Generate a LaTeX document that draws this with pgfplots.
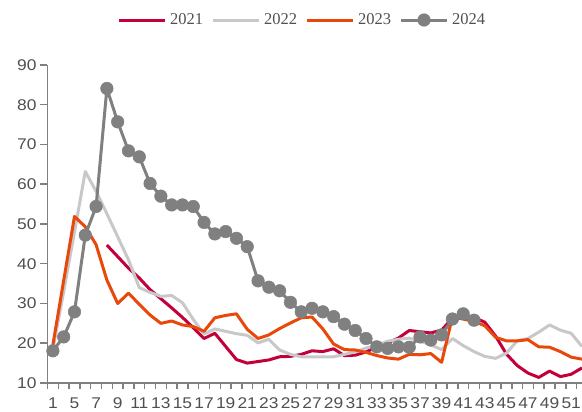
\documentclass[border=0pt]{standalone}
\usepackage{fontspec}
\setmainfont{Liberation Sans}[FakeStretch=1.12]
\newfontfamily\legfont{Liberation Serif}
\usepackage{pgfplots}
\usepackage{pgfplotstable}
\pgfplotsset{compat=1.18}
\definecolor{axgray}{RGB}{128,128,128}
\definecolor{labgray}{RGB}{80,80,80}
\definecolor{c21}{RGB}{196,0,58}
\definecolor{c22}{RGB}{200,200,200}
\definecolor{c23}{RGB}{232,72,10}
\definecolor{c24}{RGB}{128,128,128}

\pgfplotstableread{
x y
6 44.7
7 41.8
8 38.9
9 36.4
10 33.5
11 31.2
12 28.9
13 26.5
14 23.9
15 21.2
16 22.5
17 19.2
18 15.9
19 15.0
20 15.4
21 15.8
22 16.6
23 16.7
24 17.2
25 18.1
26 17.9
27 18.6
28 16.9
29 17.0
30 17.8
31 19.1
32 20.1
33 21.3
34 23.2
35 22.9
36 22.6
37 23.3
38 26.3
39 26.8
40 26.5
41 25.3
42 21.8
43 17.3
44 14.4
45 12.5
46 11.4
47 13.0
48 11.6
49 12.2
50 13.8
}\tabA

\pgfplotstableread{
x y
1 18.5
2 33
3 48
4 63.2
5 58.2
6 52.6
7 46.8
8 41.0
9 34.0
10 32.8
11 31.8
12 32.0
13 30.2
14 26.0
15 22.3
16 23.6
17 23.0
18 22.4
19 22.0
20 20.1
21 21.0
22 18.3
23 17.2
24 16.6
25 16.6
26 16.6
27 16.6
28 17.2
29 17.8
30 18.8
31 19.5
32 20.5
33 21.0
34 21.3
35 20.5
36 19.6
37 18.4
38 21.2
39 19.4
40 17.9
41 16.7
42 16.2
43 17.5
44 20.6
45 21.2
46 22.8
47 24.6
48 23.3
49 22.5
50 19.2
}\tabB

\pgfplotstableread{
x y
1 19.6
2 35.8
3 51.9
4 49.3
5 44.8
6 35.9
7 30.0
8 32.6
9 29.8
10 27.1
11 25.0
12 25.6
13 24.6
14 24.2
15 23.0
16 26.4
17 27.0
18 27.4
19 23.5
20 21.2
21 22.1
22 23.7
23 25.1
24 26.4
25 26.6
26 23.6
27 19.8
28 18.4
29 18.3
30 17.7
31 16.9
32 16.3
33 16.0
34 17.2
35 17.1
36 17.4
37 15.2
38 26.6
39 26.1
40 25.5
41 24.4
42 21.5
43 20.6
44 20.6
45 20.9
46 19.1
47 19.0
48 17.9
49 16.5
50 16.0
}\tabC

\pgfplotstableread{
x y
1 18.1
2 21.6
3 27.9
4 47.2
5 54.4
6 84.1
7 75.7
8 68.4
9 66.9
10 60.2
11 57.0
12 54.8
13 54.8
14 54.4
15 50.4
16 47.5
17 48.1
18 46.4
19 44.3
20 35.7
21 34.1
22 33.2
23 30.3
24 27.9
25 28.8
26 27.9
27 26.7
28 24.8
29 23.2
30 21.2
31 19.1
32 18.7
33 19.1
34 19.0
35 21.6
36 20.8
37 22.1
38 26.1
39 27.4
40 25.8
}\tabD

\begin{document}
\begin{tikzpicture}
\begin{axis}[
  at={(0,0)}, anchor=south west,
  scale only axis, width=535bp, height=318bp,
  xmin=0.5, xmax=50.05, ymin=10, ymax=90,
  axis x line*=bottom, axis y line*=left,
  axis line style={-, draw=axgray, line width=1.8bp},
  ytick={10,20,...,90},
  xtick={1,3,...,49},
  xticklabels={1,5,7,9,11,13,15,17,19,21,23,25,27,29,31,33,35,37,39,41,43,45,47,49,51},
  minor xtick={0.5,1.5,...,49.5},
  tick align=outside,
  major tick length=7bp,
  minor tick length=6bp,
  major x tick style={draw=none},
  tick style={draw=axgray, line width=1.5bp},
  /pgf/number format/assume math mode=true,
  tick label style={font=\fontsize{15.5bp}{18bp}\selectfont, text=labgray},
  xticklabel style={yshift=-4.5bp},
  yticklabel style={xshift=-0.5bp},
  clip=false,
  legend columns=4,
  legend style={draw=none, fill=none, at={(axis description cs:0.4776,1.1415)}, anchor=center,
    font=\legfont\fontsize{16.5bp}{19bp}\selectfont, text=labgray,
    inner sep=0pt,
    nodes={inner xsep=3.5bp},
    /tikz/every even column/.append style={column sep=5bp}},
  legend image code/.code={\draw[mark repeat=2,mark phase=2,#1] plot coordinates {(0bp,0bp) (23bp,0bp) (46bp,0bp)};},
  every axis plot/.append style={line width=3bp, line join=round},
]
\addplot[c21, mark=none] table[x=x,y=y] {\tabA};
\addlegendentry{2021}
\addplot[c22, mark=none] table[x=x,y=y] {\tabB};
\addlegendentry{2022}
\addplot[c23, mark=none] table[x=x,y=y] {\tabC};
\addlegendentry{2023}
\addplot[c24, mark=*, mark size=6.3bp, mark options={fill=c24, draw=c24, line width=0.5bp}] table[x=x,y=y] {\tabD};
\addlegendentry{2024}
\end{axis}
\pgfresetboundingbox
\path (-47.5bp,-29bp) rectangle (534.5bp,383bp);
\end{tikzpicture}
\end{document}
